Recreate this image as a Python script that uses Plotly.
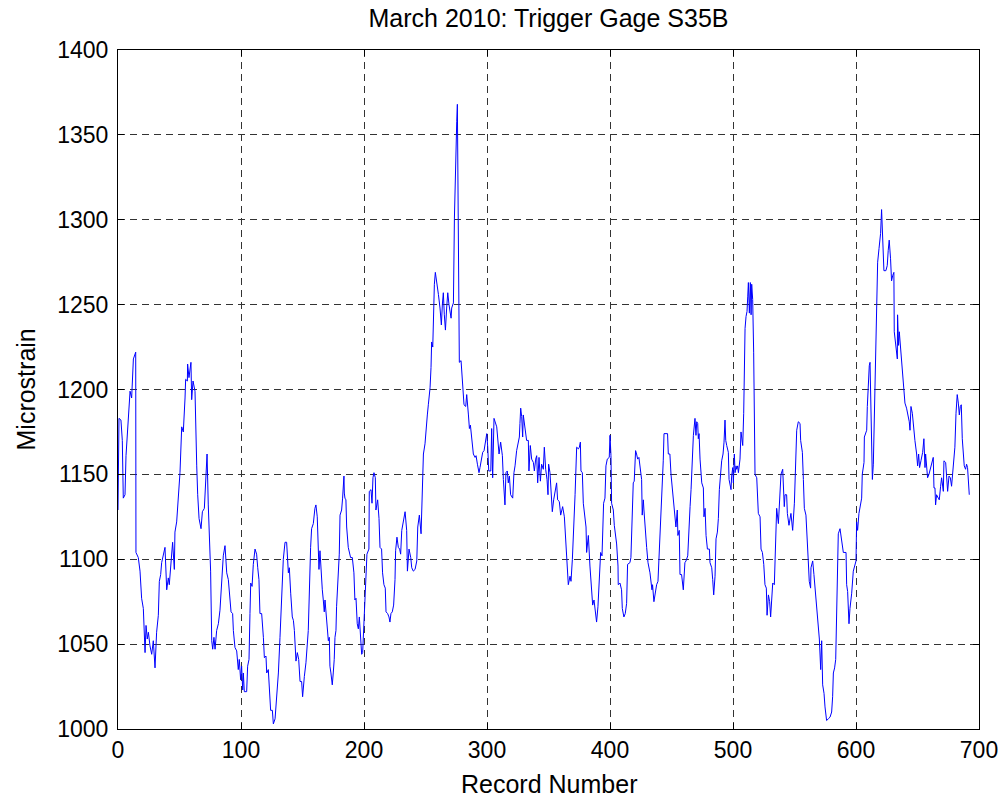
import plotly.graph_objects as go

records = [
    0, 0.8, 2.4, 3.5, 4.3, 5.7, 6.5, 7.9, 9.2, 9.8, 11.1, 12.5, 14.4, 14.6, 16.5, 17.9, 19.2, 20.6,
    22.0, 22.8, 23.8, 24.7, 26.0, 27.4, 28.7, 30.1, 31.4, 32.8, 33.6, 34.7, 35.5, 36.9, 38.2, 39.6,
    40.9, 41.7, 42.8, 43.6, 44.4, 45.8, 46.3, 47.7, 49.0, 50.4, 51.8, 53.1, 54.5, 55.0, 56.4, 56.6,
    57.7, 58.5, 59.3, 59.9, 61.0, 62.6, 63.1, 64.0, 64.8, 65.9, 67.5, 68.6, 70.2, 71.3, 72.4, 73.4,
    75.3,
    76.2, 77.0, 78.0, 78.9, 80.2, 81.6, 82.9, 84.3, 85.6, 87.0, 88.4, 89.7, 91.1, 91.9, 93.2, 93.8,
    95.1, 96.5, 97.8, 98.6, 99.7, 100.5, 101.4, 101.9, 102.7, 104.6, 105.4, 106.5, 107.3, 107.9,
    109.0, 110.0, 111.4, 112.7, 113.6, 114.6, 115.4, 116.8, 118.2, 119.0, 120.3, 120.9, 122.2,
    123.0, 124.1, 125.5, 126.3, 127.7, 129.0, 130.4, 131.7, 133.1, 134.4, 135.8, 137.1, 138.5,
    139.3, 140.4, 141.7, 142.6, 143.4, 144.7, 145.8, 146.9, 148.0, 149.3, 150.1, 151.5, 152.8,
    154.7, 155.5, 156.6, 157.4, 158.8, 160.1, 160.9, 162.0, 162.8, 163.4, 164.2, 165.0, 166.1,
    166.9, 167.7, 168.3, 169.1, 170.2, 171.0, 171.8, 172.3, 173.1, 174.2, 175.0, 175.8, 176.4,
    177.2, 177.7, 179.1, 179.9, 180.5, 181.8, 182.6, 183.7, 184.0, 184.5, 185.3, 185.9, 187.2,
    188.0, 189.1, 190.5, 191.8, 192.6, 193.5, 194.5, 195.4, 196.2, 197.0, 198.1, 198.9, 199.7,
    200.8, 201.6, 202.4, 204.0, 204.3, 205.7, 206.5, 207.3, 208.1, 209.2, 209.7, 211.1, 212.2,
    213.0, 214.3, 215.1, 216.2, 217.3, 217.9, 219.2, 220.3, 221.1, 221.9, 223.0, 224.1, 225.2,
    225.7, 226.8, 227.9, 229.0, 229.8,
    230.7, 232.0, 233.4, 234.7, 235.3, 236.6, 238.0, 238.8, 240.1, 241.5, 242.9, 243.7, 245.0,
    246.4, 247.2, 248.3, 249.6, 250.4, 251.5, 252.3, 253.7, 254.5, 255.0, 255.9, 256.4, 257.2,
    258.0, 259.1, 260.5, 261.8, 262.9, 263.7, 264.5, 265.3, 266.2, 267.2, 268.1, 269.1, 270.0,
    270.8, 271.3, 272.7, 273.5, 274.3, 275.4, 275.9, 277.5, 278.9, 280.0, 281.3, 282.7, 283.5,
    284.9, 285.7, 286.5, 287.6, 288.4, 288.9, 290.3, 291.1, 292.2, 293.5, 294.3, 295.4, 296.5,
    297.6, 298.7, 299.8, 300.6, 301.4, 303.1, 303.8, 304.6, 305.7,
    307.9, 309.8, 311.1, 312.5, 313.3, 314.6, 315.4, 316.5, 317.3, 318.2, 319.2, 320.9, 321.9,
    322.8, 324.1, 325.5, 326.3, 326.8, 327.4, 328.2, 329.0, 329.5, 330.9, 332.2, 333.6, 334.1,
    335.2, 336.3, 337.7, 338.5, 339.6, 340.4, 341.2, 342.3, 343.4, 344.4, 345.8, 346.6, 347.7,
    348.8, 349.6, 350.1, 351.2, 352.0, 353.1, 354.2, 355.3, 356.6, 357.4, 358.8, 359.9, 361.5,
    362.9, 364.0, 365.0, 366.1, 367.5, 368.3, 369.4, 370.5, 371.6, 372.9, 374.3, 375.1, 375.9,
    376.4, 377.5, 378.3, 379.7, 380.5, 381.0, 382.4,
    383.7, 385.1, 385.9, 387.0, 388.0, 389.1, 390.2, 391.3, 392.4, 393.5, 394.0, 394.8, 395.9,
    396.7, 397.8, 399.4, 400.0, 400.8, 401.3, 402.7, 403.5, 404.6, 405.4, 406.5, 406.7, 408.1,
    409.4, 410.0, 411.3, 412.4, 413.5, 414.3, 416.2, 417.0, 417.6, 418.4, 418.9, 419.7, 420.8,
    421.6, 422.5, 423.5, 424.3, 425.7, 426.2, 427.1, 427.6, 428.4, 429.8, 430.9, 432.5, 434.1,
    434.6, 435.7, 436.5, 437.9, 439.0, 439.8, 440.6, 441.4, 442.2, 443.3, 443.9, 446.8, 447.4,
    448.7, 449.6, 450.6, 451.5, 452.5, 453.6, 454.7, 455.2, 456.3, 456.9, 458.2, 459.6, 460.9,
    461.8, 463.2, 463.7, 464.5, 465.1, 465.9, 467.0, 467.8, 469.1, 469.9, 470.5, 471.3, 471.8,
    472.4, 473.2, 474.6, 475.9, 476.4, 477.3, 478.1, 479.2, 480.8, 481.3, 482.7, 483.5, 484.3,
    485.4, 486.2, 487.3, 488.1, 488.9, 490.0, 490.8, 491.9, 492.7, 493.5, 494.1, 494.9, 496.2,
    496.8, 497.6, 498.4, 498.9, 499.8, 500.3, 501.1, 501.7, 502.5, 503.0, 503.8, 504.4, 505.2,
    505.7, 506.5, 507.1, 507.9, 508.7, 509.8, 510.6, 511.4, 512.0, 512.5, 513.3, 514.1, 514.7,
    515.2, 516.0, 516.8, 517.9, 519.3, 520.6, 522.0, 522.8, 523.9, 525.0, 526.0, 527.1, 527.7,
    528.8, 529.8, 530.6, 531.5, 532.3, 533.6, 534.2, 535.5, 536.9, 538.2,
    539.0, 540.4, 541.7, 542.3, 543.6, 544.2, 545.5, 547.1, 548.5, 549.9, 550.9, 551.8, 553.1,
    554.5, 555.0, 556.4, 557.2, 558.0, 559.3, 560.4, 561.2, 562.0, 563.1, 563.4, 564.8, 565.8,
    567.2, 568.6, 570.2, 571.3, 572.1, 572.9, 574.0, 574.8, 576.1, 577.5, 578.9, 580.2, 581.0,
    581.6, 582.6, 583.5, 584.3, 585.6, 587.0, 588.3, 589.7, 591.9, 592.4, 593.2, 594.3, 595.1,
    596.5, 597.8, 599.2, 600.0, 600.5, 601.3, 602.4, 603.5, 604.6, 605.1, 605.9, 606.5, 606.8,
    607.8, 608.7, 609.2, 610.0, 610.8, 611.4, 612.2, 613.3, 614.1, 614.9,
    616.8, 617.6, 618.7, 620.0, 620.8, 621.9, 622.7, 624.3, 625.4, 626.2, 627.0, 628.1, 628.9,
    629.8, 630.8, 631.1, 632.5, 633.6, 633.8, 634.6, 635.2, 636.3, 637.6, 638.4, 639.0, 639.8,
    641.1, 642.0, 643.3, 643.9, 644.7, 645.8, 646.6, 647.9, 649.3, 650.1, 650.9, 651.7, 652.8,
    654.2, 655.2, 656.1, 656.6, 657.4, 658.2, 659.3, 660.7, 662.0, 662.8, 663.4, 664.2, 664.7,
    665.5, 666.9, 667.7, 668.8, 669.6, 671.0, 671.5, 672.9, 673.7, 674.5, 675.6, 676.7, 677.7,
    678.5, 679.6, 680.4, 681.3, 682.3, 683.2, 684.0, 684.8, 685.6, 686.4, 687.2, 688.0, 689.1,
    689.9, 690.7, 691.3, 692.1,
]

microstrain = [
    1129, 1183, 1182, 1170, 1136, 1138, 1161, 1179, 1188, 1199, 1195, 1218, 1222, 1104, 1101, 1093, 1077, 1071,
    1045, 1061, 1053, 1057, 1049, 1044, 1052, 1036, 1057, 1067, 1087, 1091, 1098, 1104, 1107, 1082,
    1089, 1085, 1095, 1098, 1110, 1094, 1116, 1122, 1136, 1151, 1178, 1175, 1195, 1206, 1205, 1215,
    1207, 1212, 1216, 1194, 1205, 1199, 1173, 1155, 1138, 1124, 1118, 1128, 1130, 1145, 1162, 1132,
    1093,
    1052, 1047, 1054, 1047, 1058, 1062, 1070, 1085, 1102, 1108, 1092, 1088, 1074, 1069, 1068, 1058,
    1048, 1046, 1035, 1041, 1029, 1037, 1023, 1033, 1022, 1022, 1037, 1041, 1068, 1086,
    1084, 1097, 1106, 1103, 1095, 1088, 1068, 1068, 1054, 1042, 1043, 1033, 1035,
    1021, 1011, 1011, 1003, 1006, 1019, 1033, 1054, 1080, 1100, 1110, 1110, 1092,
    1095, 1080, 1066, 1064, 1058, 1040, 1045, 1041, 1028, 1028, 1019, 1031, 1039,
    1058, 1082, 1107, 1118, 1121, 1130, 1132, 1125, 1111, 1094, 1105, 1092, 1082,
    1076, 1069, 1076, 1068, 1062, 1052, 1054, 1037, 1033, 1026, 1033, 1041, 1054,
    1058, 1072, 1088, 1103, 1126, 1129, 1136, 1149, 1139, 1136, 1135, 1119, 1107,
    1104, 1101, 1101, 1092, 1076, 1077, 1062, 1059, 1066, 1054, 1044, 1045, 1060,
    1080, 1095, 1103, 1106, 1140, 1141, 1133, 1148, 1151, 1148, 1129, 1135, 1124,
    1107, 1106, 1092, 1085, 1083, 1069, 1068, 1066, 1063, 1068, 1069, 1073, 1088,
    1105, 1113, 1107, 1106, 1103,
    1117, 1122, 1128, 1117, 1093, 1106, 1101, 1095, 1093, 1094, 1099, 1119, 1126,
    1115, 1138, 1162, 1168, 1177, 1185, 1191, 1201, 1213, 1228, 1225, 1250, 1262,
    1269, 1264, 1256, 1248, 1238, 1250, 1257, 1244, 1235, 1248, 1257, 1250, 1246,
    1242, 1248, 1251, 1301, 1334, 1358, 1368, 1216, 1217, 1207, 1191, 1190, 1197,
    1185, 1177, 1179, 1170, 1168, 1162, 1160, 1161, 1156, 1151, 1154, 1159, 1163,
    1164, 1168, 1174, 1166, 1152, 1152, 1177, 1148, 1183,
    1178, 1162, 1169, 1161, 1147, 1132, 1151, 1152, 1145, 1149, 1138, 1136, 1151,
    1155, 1164, 1169, 1172, 1180, 1189, 1184, 1172, 1185, 1175, 1170, 1170, 1152,
    1167, 1159, 1157, 1152, 1159, 1161, 1145, 1160, 1146, 1156, 1153, 1166, 1153,
    1147, 1138, 1156, 1151, 1141, 1128, 1135, 1139, 1145, 1135, 1134, 1126, 1131,
    1125, 1110, 1095, 1085, 1090, 1087, 1100, 1117, 1138, 1166, 1165, 1166, 1169,
    1152, 1151, 1133, 1126, 1119, 1104, 1114,
    1096, 1082, 1073, 1076, 1068, 1063, 1072, 1088, 1104, 1102, 1119, 1133, 1136,
    1155, 1159, 1160, 1173, 1161, 1133, 1129, 1120, 1115, 1109, 1096, 1085, 1086,
    1082, 1071, 1066, 1068, 1074, 1097, 1098, 1101, 1113, 1131, 1145, 1146, 1164,
    1162, 1159, 1160, 1154, 1147, 1126, 1135, 1129, 1119, 1107, 1098, 1092, 1082,
    1085, 1075, 1079, 1085, 1087, 1101, 1113, 1119, 1139, 1158, 1174, 1174, 1162,
    1162, 1150, 1141, 1135, 1127, 1119, 1129, 1114, 1117, 1091, 1091, 1082, 1098,
    1099, 1102, 1112, 1116, 1131, 1141, 1161, 1173, 1183, 1173, 1181, 1180, 1171,
    1174, 1159, 1145, 1142, 1125, 1130, 1114, 1106, 1106, 1098, 1095, 1088, 1079,
    1090, 1112, 1116, 1124, 1141, 1155, 1158, 1162, 1169, 1182, 1170, 1167, 1163,
    1147, 1144, 1141, 1149, 1154, 1145, 1162, 1151, 1155, 1153, 1155, 1151, 1155,
    1159, 1175, 1171, 1167, 1186, 1236, 1243, 1246, 1255, 1263, 1245, 1263, 1244,
    1262, 1253, 1222, 1150, 1148, 1127, 1125, 1106, 1104, 1097, 1085, 1083, 1067,
    1079, 1075, 1066, 1075, 1086, 1085, 1100, 1130, 1121, 1135,
    1150, 1153, 1131, 1138, 1138, 1127, 1120, 1127, 1117, 1133, 1156, 1176, 1181,
    1180, 1170, 1163, 1147, 1130, 1126, 1105, 1099, 1087, 1083, 1095, 1099, 1091,
    1077, 1063, 1053, 1035, 1052, 1026, 1021, 1013, 1005, 1006, 1007, 1010, 1019,
    1033, 1036, 1041, 1079, 1115, 1118, 1111, 1104, 1104, 1085, 1081, 1062, 1071,
    1080, 1093, 1098, 1099, 1122, 1117, 1127, 1132, 1136, 1150, 1153, 1157, 1172,
    1174, 1176, 1190, 1208, 1214, 1216, 1182, 1147, 1156, 1182,
    1233, 1275, 1283, 1292, 1306, 1287, 1270, 1270, 1273, 1282, 1288, 1277, 1264,
    1267, 1269, 1234, 1226, 1218, 1244, 1226, 1234, 1223, 1215, 1205, 1197, 1192,
    1189, 1186, 1181, 1176, 1190, 1186, 1178, 1170, 1162, 1155, 1162, 1154, 1158,
    1163, 1171, 1154, 1162, 1152, 1148, 1150, 1154, 1156, 1160, 1142, 1142, 1132,
    1138, 1136, 1135, 1143, 1148, 1140, 1158, 1157, 1146, 1140, 1149, 1148, 1143,
    1150, 1156, 1166, 1186, 1197, 1192, 1185, 1190, 1191, 1171, 1159, 1155, 1153,
    1156, 1154, 1147, 1138,
]

x_ticks = [0, 100, 200, 300, 400, 500, 600, 700]
y_ticks = [1000, 1050, 1100, 1150, 1200, 1250, 1300, 1350, 1400]

title_text = "March 2010: Trigger Gage S35B"
x_label = "Record Number"
y_label = "Microstrain"

FONT = "Arial, Liberation Sans, Helvetica, sans-serif"

fig = go.Figure()
fig.add_trace(go.Scatter(
    x=records, y=microstrain, mode="lines",
    line=dict(color="#0000ff", width=1),
    hoverinfo="x+y",
))

axis_common = dict(
    showline=True, linecolor="black", linewidth=1, mirror="ticks",
    ticks="inside", ticklen=6, tickwidth=1, tickcolor="black",
    showgrid=True, gridcolor="#333333", gridwidth=1, griddash="7px,5px",
    zeroline=False, automargin=False,
    tickfont=dict(family=FONT, size=23, color="black"),
)

fig.update_xaxes(range=[0, 700], tickvals=x_ticks, ticktext=[str(v) for v in x_ticks], **axis_common)
fig.update_yaxes(range=[1000, 1400], tickvals=y_ticks, ticktext=[str(v) for v in y_ticks],
                 ticklabelstandoff=4, **axis_common)

fig.update_layout(
    width=1006, height=800,
    margin=dict(l=118, r=27, t=50, b=71),
    paper_bgcolor="white", plot_bgcolor="white",
    showlegend=False,
    font=dict(family=FONT, size=23, color="black"),
    title=dict(text=title_text, x=0.5, xref="paper", xanchor="center",
               y=1 - 18 / 800, yref="container", yanchor="middle",
               font=dict(family=FONT, size=25, color="black")),
    annotations=[
        dict(text=x_label, xref="paper", yref="paper", x=0.5, y=0,
             xanchor="center", yanchor="middle", yshift=-55, showarrow=False,
             font=dict(family=FONT, size=25, color="black")),
        dict(text=y_label, xref="paper", yref="paper", x=0, y=0.5,
             xanchor="center", yanchor="middle", xshift=-93, textangle=-90,
             showarrow=False, font=dict(family=FONT, size=25, color="black")),
    ],
)

fig.write_html("out.html", config={"displayModeBar": False},
               post_script="document.body.style.margin='0';document.body.style.padding='0';")
